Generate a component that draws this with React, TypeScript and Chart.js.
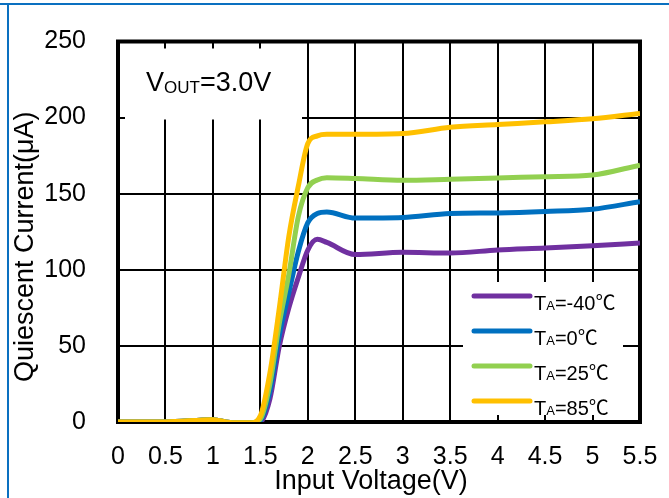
import React, { useEffect, useRef } from "react";
import { Chart, registerables } from "chart.js";

Chart.register(...registerables);

// Input voltage sweep (V)
const inputVoltage = [0, 0.5, 1.0, 1.2, 1.4, 1.5, 1.6, 1.7, 1.8, 1.9, 2.0, 2.1, 2.2, 2.5, 3.0, 3.5, 4.0, 4.5, 5.0, 5.5];

// Quiescent current (µA) per ambient temperature
const iqMinus40 = [0, 0, 1.5, -0.5, -0.5, 0, 15, 50, 75, 95, 113, 120, 118, 110, 111.5, 111, 113, 114.3, 115.8, 117.6];
const iq0 = [0, 0, 1.5, -0.5, -0.5, 1, 20, 57, 85, 112, 131, 137, 138, 134, 134.4, 137, 137.4, 138.3, 139.8, 144.8];
const iq25 = [0, 0, 1.5, -0.5, -0.5, 2, 25, 65, 97, 135, 154, 159, 160.5, 160, 158.8, 159.5, 160.3, 161.2, 162.3, 168.8];
const iq85 = [0, 0, 1.5, -0.5, -0.5, 4, 32, 75, 122, 155, 183, 188, 189, 189, 189.5, 193.7, 195.5, 197.2, 199.2, 202.7];

const seriesNames = ["-40℃", "0℃", "25℃", "85℃"];
const seriesColors = ["#7030A0", "#0070C0", "#92D050", "#FFC000"];
const seriesValues = [iqMinus40, iq0, iq25, iq85];

const xTickValues = [0, 0.5, 1, 1.5, 2, 2.5, 3, 3.5, 4, 4.5, 5, 5.5];
const yTickValues = [0, 50, 100, 150, 200, 250];

const xTitle = "Input Voltage(V)";
const yTitle = "Quiescent Current(μA)";

const FONT = "'Liberation Sans', Arial, 'Noto Sans CJK SC', sans-serif";

type Run = [string, number, number];

function drawRuns(ctx: CanvasRenderingContext2D, x: number, y: number, runs: Run[]) {
  let cx = x;
  ctx.textBaseline = "alphabetic";
  ctx.textAlign = "left";
  for (const [text, size, dy] of runs) {
    ctx.font = `${size}px ${FONT}`;
    ctx.fillText(text, cx, y + dy);
    cx += ctx.measureText(text).width;
  }
}

const decorPlugin = {
  id: "decor",
  beforeDraw(chart: any) {
    const { ctx, width, height } = chart;
    ctx.save();
    ctx.fillStyle = "#ffffff";
    ctx.fillRect(0, 0, width, height);
    // blue frame along the top and left edges
    ctx.fillStyle = "#0A70C0";
    ctx.fillRect(0, 3, width, 2);
    ctx.fillRect(7, 3, 2, height - 3);
    ctx.restore();
  },
  beforeDatasetsDraw(chart: any) {
    const { ctx, chartArea: a } = chart;
    ctx.save();
    // white panels behind the note and the legend
    ctx.fillStyle = "#ffffff";
    ctx.fillRect(a.left + 7, a.top + 7, 177, 71);
    ctx.fillRect(a.right - 177, a.bottom - 140, 160, 133);
    // plot frame
    ctx.strokeStyle = "#000000";
    ctx.lineWidth = 4;
    ctx.strokeRect(a.left, a.top, a.right - a.left, a.bottom - a.top);
    ctx.restore();
  },
  afterDraw(chart: any) {
    const { ctx, chartArea: a } = chart;
    ctx.save();
    ctx.fillStyle = "#000000";

    // axis titles
    ctx.font = `27px ${FONT}`;
    ctx.textAlign = "center";
    ctx.textBaseline = "middle";
    ctx.fillText(xTitle, (a.left + a.right) / 2 - 8, 482);
    ctx.save();
    ctx.translate(26, (a.top + a.bottom) / 2 + 15);
    ctx.rotate(-Math.PI / 2);
    ctx.fillText(yTitle, 0, 0);
    ctx.restore();

    drawRuns(ctx, a.left + 28, a.top + 49, [
      ["V", 27, 0],
      ["OUT", 17, 2],
      ["=3.0V", 27, 0],
    ]);

    // legend
    const lx = a.right - 166;
    const ly0 = a.bottom - 126;
    const step = 35;
    seriesNames.forEach((name, i) => {
      const y = ly0 + i * step;
      ctx.strokeStyle = seriesColors[i];
      ctx.lineWidth = 5;
      ctx.lineCap = "round";
      ctx.beginPath();
      ctx.moveTo(lx, y);
      ctx.lineTo(lx + 56, y);
      ctx.stroke();
      ctx.fillStyle = "#000000";
      drawRuns(ctx, lx + 60, y + 13.5, [
        ["T", 20, 0],
        ["A", 13, 0],
        ["=" + name, 20, 0],
      ]);
    });
    ctx.restore();
  },
};

export default function App() {
  const canvasRef = useRef<HTMLCanvasElement | null>(null);

  useEffect(() => {
    const canvas = canvasRef.current;
    if (!canvas) return;
    const datasets = seriesValues.map((vals, i) => ({
      label: "TA=" + seriesNames[i],
      data: vals.map((v, j) => ({ x: inputVoltage[j], y: v })),
      borderColor: seriesColors[i],
      backgroundColor: seriesColors[i],
      borderWidth: 5,
      pointRadius: 0,
      cubicInterpolationMode: "monotone" as const,
      order: seriesValues.length - 1 - i,
      fill: false,
    }));

    const chart = new Chart(canvas, {
      type: "line",
      data: { datasets },
      options: {
        animation: false,
        responsive: false,
        events: [],
        layout: { padding: { top: 41.5, right: 29, left: 0, bottom: 0 } },
        plugins: { legend: { display: false }, tooltip: { enabled: false } },
        scales: {
          x: {
            type: "linear",
            min: 0,
            max: 5.5,
            afterBuildTicks: (s: any) => {
              s.ticks = xTickValues.map((v) => ({ value: v }));
            },
            afterFit: (s: any) => {
              s.height = 76;
              s.paddingLeft = 0;
              s.paddingRight = 0;
            },
            ticks: {
              color: "#000",
              font: { family: FONT, size: 25 },
              padding: 20,
              maxRotation: 0,
              autoSkip: false,
              callback: (v: any) => String(v),
            },
            grid: { color: "#000", lineWidth: 2, drawTicks: false },
            border: { display: false },
          },
          y: {
            type: "linear",
            min: 0,
            max: 250,
            afterBuildTicks: (s: any) => {
              s.ticks = yTickValues.map((v) => ({ value: v }));
            },
            afterFit: (s: any) => {
              s.width = 118;
              s.paddingTop = 0;
              s.paddingBottom = 0;
            },
            ticks: {
              color: "#000",
              font: { family: FONT, size: 25 },
              padding: 32,
              autoSkip: false,
              callback: (v: any) => String(v),
            },
            grid: { color: "#000", lineWidth: 2, drawTicks: false },
            border: { display: false },
          },
        },
      },
      plugins: [decorPlugin],
    });
    return () => chart.destroy();
  }, []);

  return (
    <div style={{ position: "fixed", left: 0, top: 0, width: 669, height: 498, background: "#fff" }}>
      <canvas ref={canvasRef} width={669} height={498} style={{ display: "block" }} />
    </div>
  );
}
